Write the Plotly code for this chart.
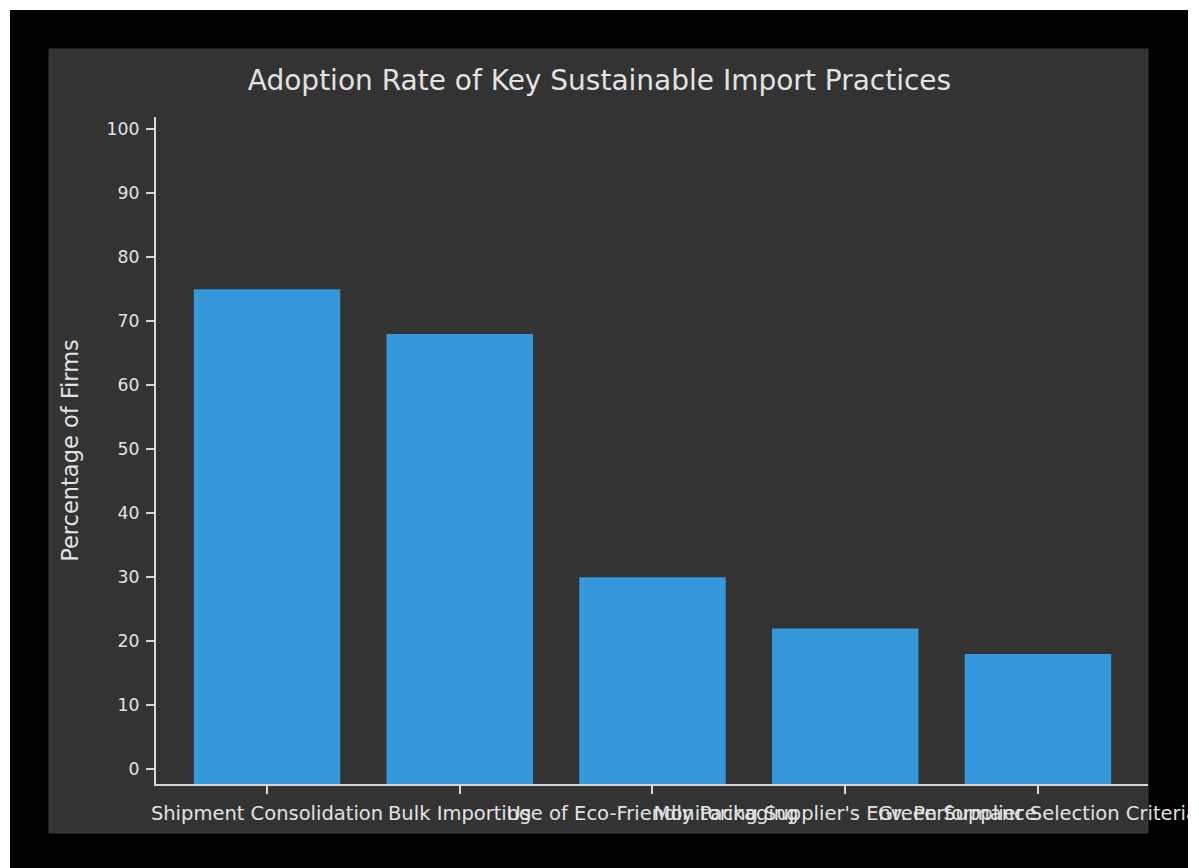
import plotly.graph_objects as go

# Share of firms adopting each sustainable import practice (%)
practices = [
    "Shipment Consolidation",
    "Bulk Importing",
    "Use of Eco-Friendly Packaging",
    "Monitoring Supplier's Env. Performance",
    "Green Supplier Selection Criteria",
]
adoption_pct = [75, 68, 30, 22, 18]
y_ticks = [0, 10, 20, 30, 40, 50, 60, 70, 80, 90, 100]

W, H = 1199, 868
# plot area in pixels
PL, PR, PT, PB = 156, 1148, 117, 784
Y_MIN, Y_MAX = -2.3, 101.9
FONT = "DejaVu Sans, Verdana, sans-serif"
TEXT = "#e2e2e2"
AXIS = "#d8d8d8"


def px_x(p):
    return (p - PL) / (PR - PL)


def px_y(p):
    return (PB - p) / (PB - PT)


fig = go.Figure(
    go.Bar(
        x=list(range(len(practices))),
        y=[v - Y_MIN for v in adoption_pct],
        base=Y_MIN,
        width=0.76,
        marker=dict(color="#3498db", line=dict(width=0)),
        hovertemplate="%{customdata}: %{text}%<extra></extra>",
        customdata=practices,
        text=adoption_pct,
        textposition="none",
    )
)

fig.update_layout(
    width=W,
    height=H,
    autosize=False,
    margin=dict(l=PL, r=W - PR, t=PT, b=H - PB, autoexpand=False),
    paper_bgcolor="white",
    plot_bgcolor="rgba(0,0,0,0)",
    font=dict(family=FONT, color=TEXT, size=17),
    showlegend=False,
    title=dict(
        text="Adoption Rate of Key Sustainable Import Practices",
        x=0.5,
        xref="container",
        xanchor="center",
        y=1 - 80 / H,
        yref="container",
        yanchor="middle",
        font=dict(size=28, color=TEXT, family=FONT),
    ),
    shapes=[
        dict(type="rect", xref="paper", yref="paper", layer="below",
             x0=px_x(10), x1=px_x(1188), y0=px_y(868), y1=px_y(10),
             fillcolor="black", line=dict(width=0)),
        dict(type="rect", xref="paper", yref="paper", layer="below",
             x0=px_x(49), x1=px_x(1148), y0=px_y(833), y1=px_y(49),
             fillcolor="#333333", line=dict(width=1, color="#3a3a3a")),
        dict(type="rect", xref="paper", yref="paper", layer="above",
             x0=px_x(1188), x1=px_x(1199), y0=px_y(868), y1=px_y(740),
             fillcolor="white", line=dict(width=0)),
    ],
)

fig.update_xaxes(
    range=[-0.576, 4.571],
    tickmode="array",
    tickvals=list(range(len(practices))),
    ticktext=practices,
    tickangle=0,
    automargin=False,
    ticklabeloverflow="allow",
    ticklabelstandoff=3,
    showgrid=False,
    zeroline=False,
    showline=True,
    linecolor=AXIS,
    linewidth=2,
    ticks="outside",
    ticklen=8,
    tickwidth=2,
    tickcolor=AXIS,
    tickfont=dict(size=19.5, color=TEXT, family=FONT),
    fixedrange=True,
)

fig.update_yaxes(
    range=[Y_MIN, Y_MAX],
    tickmode="array",
    tickvals=y_ticks,
    ticktext=[str(v) for v in y_ticks],
    automargin=False,
    ticklabelstandoff=3,
    showgrid=False,
    zeroline=False,
    showline=True,
    linecolor=AXIS,
    linewidth=2,
    ticks="outside",
    ticklen=8,
    tickwidth=2,
    tickcolor=AXIS,
    tickfont=dict(size=17.3, color=TEXT, family=FONT),
    title=dict(text="Percentage of Firms", font=dict(size=22.5, color=TEXT, family=FONT), standoff=22),
    fixedrange=True,
)

fig.write_html("out.html")
